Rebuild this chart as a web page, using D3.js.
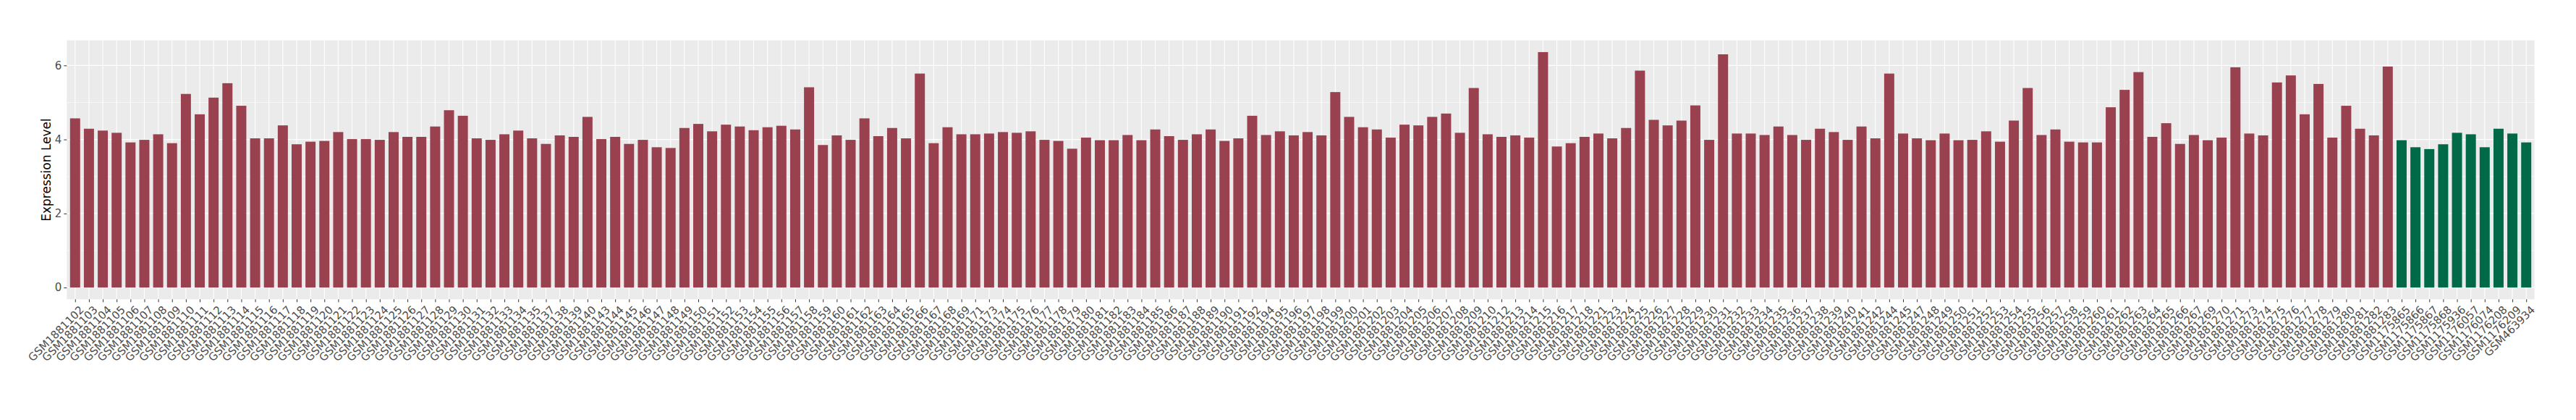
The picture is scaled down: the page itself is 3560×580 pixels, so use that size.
<!DOCTYPE html>
<html>
<head>
<meta charset="utf-8">
<script src="https://cdn.jsdelivr.net/npm/d3@7"></script>
<style>
  body { margin: 0; background: #fff; }
  svg { display: block; font-family: "DejaVu Sans", sans-serif; }
</style>
</head>
<body>
<script>
// tumour samples (red) and normal samples (green)
var tumorSamples = [
  'GSM1881102','GSM1881103','GSM1881104','GSM1881105','GSM1881106','GSM1881107','GSM1881108','GSM1881109','GSM1881110','GSM1881111','GSM1881112',
  'GSM1881113','GSM1881114','GSM1881115','GSM1881116','GSM1881117','GSM1881118','GSM1881119','GSM1881120','GSM1881121','GSM1881122','GSM1881123','GSM1881124','GSM1881125','GSM1881126','GSM1881127',
  'GSM1881128','GSM1881129','GSM1881130','GSM1881131','GSM1881132','GSM1881133','GSM1881134','GSM1881135','GSM1881137','GSM1881138','GSM1881139','GSM1881140','GSM1881143','GSM1881144','GSM1881145',
  'GSM1881146','GSM1881147','GSM1881148','GSM1881149','GSM1881150','GSM1881151','GSM1881152','GSM1881153','GSM1881154','GSM1881155','GSM1881156','GSM1881157','GSM1881158','GSM1881159','GSM1881160',
  'GSM1881161','GSM1881162','GSM1881163','GSM1881164','GSM1881165','GSM1881166','GSM1881167','GSM1881168','GSM1881169','GSM1881171','GSM1881173','GSM1881174','GSM1881175','GSM1881176','GSM1881177',
  'GSM1881178','GSM1881179','GSM1881180','GSM1881181','GSM1881182','GSM1881183','GSM1881184','GSM1881185','GSM1881186','GSM1881187','GSM1881188','GSM1881189','GSM1881190','GSM1881191','GSM1881192',
  'GSM1881194','GSM1881195','GSM1881196','GSM1881197','GSM1881198','GSM1881199','GSM1881200','GSM1881201','GSM1881202','GSM1881203','GSM1881204','GSM1881205','GSM1881206','GSM1881207','GSM1881208','GSM1881209',
  'GSM1881210','GSM1881212','GSM1881213','GSM1881214','GSM1881215','GSM1881216','GSM1881217','GSM1881218','GSM1881221','GSM1881223','GSM1881224','GSM1881225','GSM1881226','GSM1881227','GSM1881228',
  'GSM1881229','GSM1881230','GSM1881231','GSM1881232','GSM1881233','GSM1881234','GSM1881235','GSM1881236','GSM1881237','GSM1881238','GSM1881239','GSM1881240','GSM1881241','GSM1881242','GSM1881244',
  'GSM1881245','GSM1881247','GSM1881248','GSM1881249','GSM1881250','GSM1881251','GSM1881252','GSM1881253','GSM1881254','GSM1881255','GSM1881256','GSM1881257','GSM1881258','GSM1881259','GSM1881260',
  'GSM1881261','GSM1881262','GSM1881263','GSM1881264','GSM1881265','GSM1881266','GSM1881267','GSM1881269','GSM1881270','GSM1881271','GSM1881273','GSM1881274','GSM1881275','GSM1881276','GSM1881277',
  'GSM1881278','GSM1881279','GSM1881280','GSM1881281','GSM1881282','GSM1881283'
];
var tumorValues = [
  4.57,4.29,4.24,4.18,3.92,3.99,4.14,3.90,5.23,4.68,5.13,
  5.52,4.91,4.03,4.03,4.38,3.87,3.94,3.96,4.20,4.01,4.01,3.99,4.20,4.07,4.07,
  4.35,4.79,4.64,4.03,3.99,4.14,4.24,4.03,3.88,4.11,4.07,4.61,4.01,4.07,3.88,
  3.99,3.79,3.77,4.31,4.42,4.22,4.40,4.35,4.25,4.33,4.37,4.27,5.41,3.85,4.11,
  3.99,4.57,4.09,4.31,4.03,5.78,3.90,4.33,4.14,4.14,4.16,4.20,4.18,4.22,3.99,
  3.96,3.75,4.05,3.98,3.98,4.12,3.98,4.27,4.09,3.99,4.14,4.27,3.96,4.03,4.64,
  4.12,4.22,4.11,4.20,4.11,5.28,4.61,4.33,4.27,4.05,4.40,4.38,4.61,4.70,4.18,5.39,
  4.14,4.07,4.11,4.05,6.36,3.81,3.90,4.07,4.16,4.03,4.31,5.86,4.53,4.38,4.51,
  4.92,3.99,6.30,4.16,4.16,4.12,4.35,4.12,3.99,4.29,4.20,3.99,4.35,4.03,5.78,
  4.16,4.03,3.98,4.16,3.98,3.99,4.22,3.94,4.51,5.39,4.12,4.27,3.94,3.92,3.92,
  4.87,5.34,5.82,4.07,4.44,3.88,4.12,3.98,4.05,5.95,4.16,4.11,5.54,5.73,4.68,
  5.50,4.05,4.91,4.29,4.11,5.97
];
var normalSamples = [
  'GSM1175865','GSM1175866','GSM1175867','GSM1175868','GSM1175936',
  'GSM1176057','GSM1176074','GSM1176208','GSM1176209','GSM463934'
];
var normalValues = [3.98,3.79,3.74,3.87,4.18,4.14,3.79,4.29,4.16,3.92];
var yTicks = [0, 2, 4, 6];
var yMinorTicks = [1, 3, 5];

var tumorColor = '#9A4150';
var normalColor = '#006947';

var width = 3560, height = 580;
var panel = {left: 92.3, right: 3502.7, top: 55.7, bottom: 413.3};

var bars = tumorSamples.map(function(s, i) {
  return {sample: s, value: tumorValues[i], color: tumorColor};
}).concat(normalSamples.map(function(s, i) {
  return {sample: s, value: normalValues[i], color: normalColor};
}));

var svg = d3.select('body').append('svg')
    .attr('width', width)
    .attr('height', height);

// ggplot-style discrete scale: 0.6 category padding on each side
var x = d3.scalePoint()
    .domain(bars.map(function(d) { return d.sample; }))
    .range([panel.left, panel.right])
    .padding(0.6);

var yMax = d3.max(bars, function(d) { return d.value; });
var y = d3.scaleLinear()
    .domain([-0.05 * yMax, yMax * 1.05])
    .range([panel.bottom, panel.top]);

var barW = x.step() * 0.73;

// panel background
svg.append('rect')
    .attr('x', panel.left).attr('y', panel.top)
    .attr('width', panel.right - panel.left)
    .attr('height', panel.bottom - panel.top)
    .attr('fill', '#EBEBEB');

var grid = svg.append('g').attr('stroke', '#fff');
grid.selectAll('.minor').data(yMinorTicks).join('line')
    .attr('x1', panel.left).attr('x2', panel.right)
    .attr('y1', function(d) { return y(d); }).attr('y2', function(d) { return y(d); })
    .attr('stroke-width', 0.55);
grid.selectAll('.major').data(yTicks).join('line')
    .attr('x1', panel.left).attr('x2', panel.right)
    .attr('y1', function(d) { return y(d); }).attr('y2', function(d) { return y(d); })
    .attr('stroke-width', 1.1);
grid.selectAll('.vert').data(x.domain()).join('line')
    .attr('x1', function(d) { return x(d); }).attr('x2', function(d) { return x(d); })
    .attr('y1', panel.top).attr('y2', panel.bottom)
    .attr('stroke-width', 1.1);

// bars
svg.append('g').selectAll('rect').data(bars).join('rect')
    .attr('x', function(d) { return x(d.sample) - barW / 2; })
    .attr('width', barW)
    .attr('y', function(d) { return y(d.value); })
    .attr('height', function(d) { return y(0) - y(d.value); })
    .attr('fill', function(d) { return d.color; });

// y axis
var yAxis = svg.append('g')
    .attr('transform', 'translate(' + panel.left + ',0)')
    .call(d3.axisLeft(y).tickValues(yTicks).tickFormat(d3.format('d')).tickSize(4).tickPadding(3));
yAxis.select('.domain').remove();
yAxis.attr('font-size', null).attr('font-family', null);
yAxis.selectAll('line').attr('stroke', '#333').attr('stroke-width', 1);
yAxis.selectAll('text').attr('fill', '#4D4D4D').style('font-size', '15px');

// x axis
var xAxis = svg.append('g')
    .attr('transform', 'translate(0,' + panel.bottom + ')')
    .call(d3.axisBottom(x).tickSize(4).tickPadding(0));
xAxis.select('.domain').remove();
xAxis.attr('font-size', null).attr('font-family', null);
xAxis.selectAll('line').attr('stroke', '#333').attr('stroke-width', 1);
xAxis.selectAll('text')
    .attr('fill', '#4D4D4D')
    .style('font-size', '15px')
    .attr('text-anchor', 'end')
    .attr('y', 0)
    .attr('dy', '0.7em')
    .attr('transform', 'translate(5,8) rotate(-45)');

// axis title
svg.append('text')
    .attr('transform', 'translate(70,' + ((panel.top + panel.bottom) / 2) + ') rotate(-90)')
    .attr('text-anchor', 'middle')
    .style('font-size', '17px')
    .attr('fill', '#000')
    .text('Expression Level');
</script>
</body>
</html>
